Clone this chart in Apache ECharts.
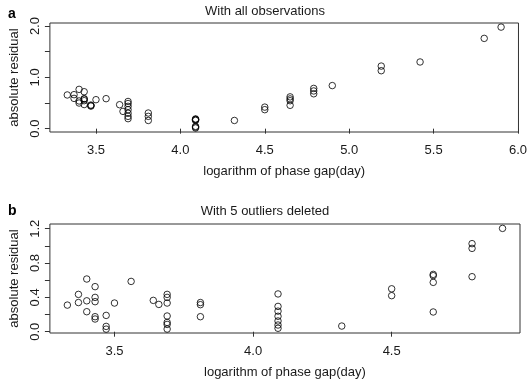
<!DOCTYPE html>
<html>
<head>
<meta charset="utf-8">
<script src="https://cdn.jsdelivr.net/npm/echarts@6/dist/echarts.min.js"></script>
<style>html,body{margin:0;padding:0;background:#fff}#c{width:530px;height:380px}</style>
</head>
<body>
<div id="c"></div>
<script>
// Panel a: all observations
const xA = [3.33, 3.37, 3.37, 3.40, 3.40, 3.40, 3.43, 3.43, 3.43, 3.43, 3.43, 3.47, 3.47, 3.47, 3.50, 3.56, 3.64, 3.66,
  3.69, 3.69, 3.69, 3.69, 3.69, 3.69, 3.69, 3.81, 3.81, 3.81, 4.09, 4.09, 4.09, 4.09, 4.09, 4.09, 4.09, 4.32, 4.50, 4.50,
  4.65, 4.65, 4.65, 4.65, 4.79, 4.79, 4.79, 4.90, 5.19, 5.19, 5.42, 5.80, 5.90];
const yA = [0.657, 0.663, 0.59, 0.766, 0.54, 0.50, 0.72, 0.585, 0.546, 0.47, 0.575, 0.46, 0.44, 0.45, 0.565, 0.585, 0.467, 0.337,
  0.53, 0.49, 0.435, 0.37, 0.30, 0.24, 0.195, 0.305, 0.24, 0.16, 0.19, 0.16, 0.045, 0.013, 0.175, 0.03, 0.18, 0.16, 0.42, 0.37,
  0.62, 0.58, 0.545, 0.455, 0.785, 0.735, 0.68, 0.84, 1.22, 1.13, 1.30, 1.76, 1.98];
// Panel b: with 5 outliers deleted
const xB = [3.33, 3.37, 3.37, 3.40, 3.40, 3.40, 3.43, 3.43, 3.43, 3.43, 3.43, 3.47, 3.47, 3.47, 3.50, 3.56, 3.64, 3.66,
  3.69, 3.69, 3.69, 3.69, 3.69, 3.69, 3.69, 3.81, 3.81, 3.81, 4.09, 4.09, 4.09, 4.09, 4.09, 4.09, 4.09, 4.32, 4.50, 4.50,
  4.65, 4.65, 4.65, 4.65, 4.79, 4.79, 4.79, 4.90];
const yB = [0.31, 0.435, 0.34, 0.614, 0.36, 0.233, 0.525, 0.40, 0.35, 0.175, 0.148, 0.19, 0.062, 0.03, 0.334, 0.586, 0.365, 0.318,
  0.435, 0.40, 0.334, 0.183, 0.108, 0.085, 0.031, 0.34, 0.315, 0.175, 0.44, 0.295, 0.24, 0.18, 0.125, 0.078, 0.04, 0.066, 0.50, 0.42,
  0.668, 0.653, 0.575, 0.23, 1.026, 0.971, 0.641, 1.204];

const xTicksA = [3.5, 4.0, 4.5, 5.0, 5.5, 6.0];
const yTicksA = [0, 0.5, 1.0, 1.5, 2.0];
const yLabelsA = [0, 1.0, 2.0];
const xTicksB = [3.5, 4.0, 4.5];
const yTicksB = [0, 0.2, 0.4, 0.6, 0.8, 1.0, 1.2];
const yLabelsB = [0, 0.4, 0.8, 1.2];

const titleA = 'With all observations';
const titleB = 'With 5 outliers deleted';
const xName = 'logarithm of phase gap(day)';
const yName = 'absolute residual';

const FONT = "'Liberation Sans', Arial, Helvetica, sans-serif";
const TXT = '#1a1a1a';
const LINE = '#333';
const FS = 13;

function xAxisCfg(gi, min, max, ticks) {
  return {
    type: 'value', gridIndex: gi, min: min, max: max,
    axisLine: {show: false},
    splitLine: {show: false},
    axisTick: {show: true, inside: false, length: 5, customValues: ticks, lineStyle: {color: LINE, width: 1}},
    axisLabel: {customValues: ticks, margin: 12, color: TXT, fontSize: FS, fontFamily: FONT,
      formatter: v => v.toFixed(1)},
    name: xName, nameLocation: 'middle', nameGap: 33,
    nameTextStyle: {color: TXT, fontSize: FS, fontFamily: FONT}
  };
}
function yAxisCfg(gi, min, max, ticks, labels) {
  return {
    type: 'value', gridIndex: gi, min: min, max: max,
    axisLine: {show: false},
    splitLine: {show: false},
    axisTick: {show: true, inside: false, length: 5, customValues: ticks, lineStyle: {color: LINE, width: 1}},
    axisLabel: {customValues: labels, rotate: 90, margin: 8, color: TXT, fontSize: FS, fontFamily: FONT,
      formatter: v => v.toFixed(1)},
    name: yName, nameLocation: 'middle', nameGap: 27, nameRotate: 90,
    nameTextStyle: {color: TXT, fontSize: FS, fontFamily: FONT}
  };
}
function pts(xs, ys) { return xs.map((x, i) => [x, ys[i]]); }
const symStyle = {color: 'rgba(0,0,0,0)', borderColor: '#000', borderWidth: 1};

const chart = echarts.init(document.getElementById('c'), null, {renderer: 'canvas'});
chart.setOption({
  animation: false,
  backgroundColor: '#fff',
  textStyle: {fontFamily: FONT},
  title: [
    {text: titleA, left: 'center', top: 0, textStyle: {fontSize: FS, fontWeight: 'normal', color: TXT, fontFamily: FONT}},
    {text: titleB, left: 'center', top: 200, textStyle: {fontSize: FS, fontWeight: 'normal', color: TXT, fontFamily: FONT}},
    {text: 'a', left: 3, top: 2, textStyle: {fontSize: 14, fontWeight: 'bold', color: '#000', fontFamily: FONT}},
    {text: 'b', left: 3, top: 199, textStyle: {fontSize: 14, fontWeight: 'bold', color: '#000', fontFamily: FONT}}
  ],
  grid: [
    {left: 43, right: 10, top: 23, height: 109, show: true, borderColor: LINE, borderWidth: 1, backgroundColor: 'transparent'},
    {left: 43, right: 10, top: 224, height: 109, show: true, borderColor: LINE, borderWidth: 1, backgroundColor: 'transparent'}
  ],
  xAxis: [xAxisCfg(0, 3.227, 6.003, xTicksA), xAxisCfg(1, 3.267, 4.963, xTicksB)],
  yAxis: [yAxisCfg(0, -0.065, 2.06, yTicksA, yLabelsA), yAxisCfg(1, -0.015, 1.255, yTicksB, yLabelsB)],
  series: [
    {type: 'scatter', xAxisIndex: 0, yAxisIndex: 0, data: pts(xA, yA), symbol: 'circle', symbolSize: 6.5, itemStyle: symStyle, emphasis: {disabled: true}},
    {type: 'scatter', xAxisIndex: 1, yAxisIndex: 1, data: pts(xB, yB), symbol: 'circle', symbolSize: 6.5, itemStyle: symStyle, emphasis: {disabled: true}}
  ]
});
</script>
</body>
</html>
